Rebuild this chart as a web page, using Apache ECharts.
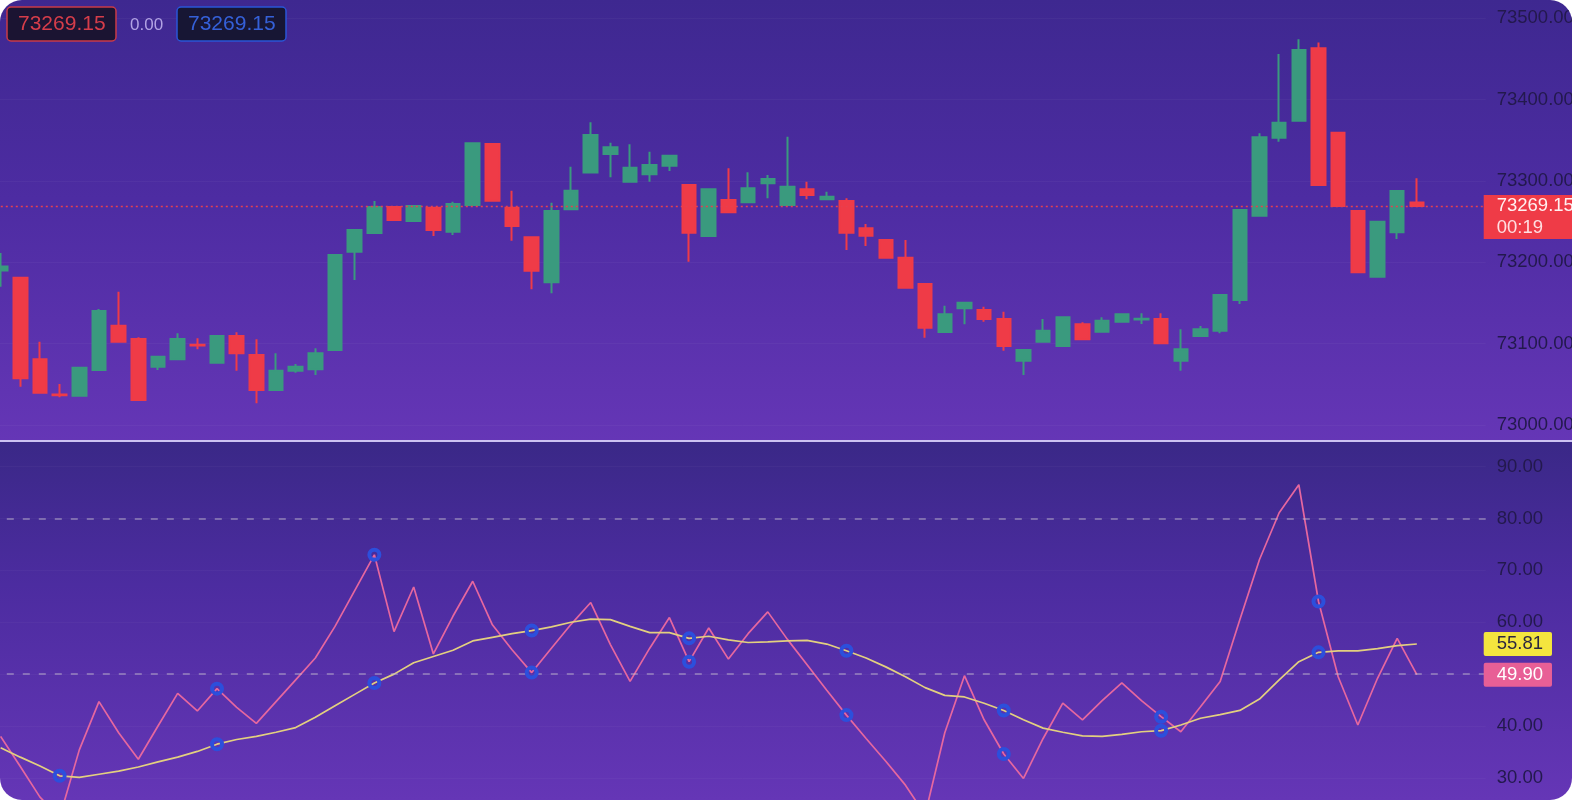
<!DOCTYPE html>
<html>
<head>
<meta charset="utf-8">
<script src="https://cdn.jsdelivr.net/npm/echarts@6/dist/echarts.min.js"></script>
<style>
html,body{margin:0;padding:0;background:#ffffff;}
#chart{width:1572px;height:800px;border-radius:22px;overflow:hidden;
  background:
    linear-gradient(180deg,#3e2890 0%,#4d2ca2 45%,#6536b6 100%) left top/100% 441px no-repeat,
    linear-gradient(180deg,#3a2887 0%,#4c2ca0 40%,#6536b6 100%) left bottom/100% 359px no-repeat;}
</style>
</head>
<body>
<div id="chart"></div>
<script>
// ---------------- data ----------------
const opens  = [73190.0,73181.1,73080.8,73037.5,73036.0,73067.6,73122.1,73105.7,73071.7,73080.8,
                73098.6,73076.6,73109.4,73086.1,73043.0,73066.8,73068.5,73092.2,73213.1,73236.0,
                73268.0,73250.8,73267.2,73237.7,73270.5,73345.5,73267.2,73230.8,73175.4,73265.2,
                73310.3,73333.2,73299.2,73308.2,73318.8,73295.1,73232.4,73276.6,73273.8,73297.2,
                73270.5,73289.8,73277.5,73275.4,73241.8,73227.5,73205.7,73173.4,73114.3,73143.5,
                73141.4,73130.3,73079.1,73102.4,73097.1,73123.8,73114.7,73127.0,73129.7,73130.3,
                73079.1,73109.4,73115.9,73153.7,73257.4,73353.3,73374.2,73463.2,73359.4,73263.1,
                73182.3,73236.9,73273.5];
const closes = [73195.0,73057.4,73039.7,73036.5,73070.5,73140.2,73102.4,73030.7,73084.0,73105.7,
                73097.8,73109.4,73088.1,73043.0,73066.8,73071.7,73088.1,73209.0,73239.8,73268.0,
                73252.0,73269.3,73239.8,73271.7,73346.4,73275.8,73244.7,73189.7,73263.1,73288.1,
                73356.6,73341.4,73316.4,73319.7,73331.1,73236.4,73289.8,73261.5,73291.0,73302.5,
                73293.0,73282.8,73280.7,73236.4,73232.8,73205.7,73168.8,73119.6,73136.1,73150.4,
                73130.3,73097.1,73092.2,73115.9,73132.4,73105.4,73128.2,73136.1,73130.5,73100.5,
                73093.1,73117.7,73159.8,73264.4,73353.7,73371.7,73461.1,73295.1,73269.3,73187.8,
                73250.0,73287.7,73269.15];
const lows   = [73170.0,73047.1,73039.0,73034.0,73035.0,73067.0,73102.0,73030.0,73067.6,73080.0,
                73093.0,73076.0,73066.8,73026.7,73042.5,73064.3,73061.5,73091.5,73178.3,73235.5,
                73251.5,73250.3,73232.4,73233.6,73270.0,73275.3,73226.6,73166.8,73161.9,73264.7,
                73309.8,73304.6,73298.7,73299.2,73312.3,73200.8,73231.9,73260.3,73273.3,73278.7,
                73270.0,73277.5,73277.0,73215.2,73220.1,73205.2,73168.3,73107.3,73113.8,73123.8,
                73127.0,73091.4,73061.5,73101.9,73096.6,73104.9,73114.2,73126.5,73124.2,73100.0,
                73066.8,73108.9,73112.7,73148.8,73256.9,73348.3,73373.7,73294.6,73268.8,73187.3,
                73181.8,73228.7,73268.7];
const highs  = [73211.5,73182.0,73102.4,73050.4,73071.0,73142.6,73163.9,73107.8,73084.5,73112.7,
                73106.6,73110.0,73114.0,73105.4,73088.1,73075.0,73094.3,73210.0,73240.5,73275.4,
                73268.5,73269.8,73267.7,73274.6,73347.6,73346.0,73288.1,73231.3,73273.3,73317.6,
                73372.2,73347.1,73345.1,73336.0,73331.6,73295.6,73290.3,73315.6,73310.7,73307.4,
                73354.5,73299.2,73286.9,73278.7,73247.1,73228.0,73227.5,73173.9,73146.7,73150.9,
                73145.5,73139.3,73092.7,73130.3,73132.9,73126.3,73132.4,73136.6,73137.3,73137.3,
                73117.7,73121.7,73160.3,73264.9,73358.7,73456.2,73474.2,73470.1,73359.9,73263.6,
                73250.5,73288.2,73303.3];
const rsiValues   = [38.0,32.2,26.3,22.4,35.4,44.7,38.7,33.6,40.0,46.3,
                     42.9,47.2,43.6,40.5,44.7,48.9,53.1,59.2,66.1,73.0,
                     58.2,66.8,53.9,61.2,67.9,59.5,54.7,50.3,55.0,59.6,
                     63.8,55.7,48.6,55.0,60.9,52.4,58.9,52.9,57.8,62.0,
                     56.7,51.8,46.9,42.1,37.6,33.2,28.6,22.9,38.7,49.7,
                     41.2,34.6,29.9,37.6,44.4,41.2,44.9,48.3,44.9,41.8,
                     38.9,43.7,48.6,60.5,72.1,81.1,86.5,64.0,49.5,40.2,
                     49.2,56.9,49.90];
const rsiMaValues = [35.8,34.0,32.3,30.4,30.1,30.7,31.3,32.1,33.1,34.0,
                     35.1,36.5,37.4,38.0,38.8,39.7,41.7,43.9,46.1,48.3,
                     50.0,52.2,53.4,54.6,56.4,57.1,57.8,58.4,59.1,60.0,
                     60.6,60.5,59.2,58.0,58.0,56.9,57.3,56.6,56.1,56.2,
                     56.4,56.5,55.8,54.5,53.1,51.4,49.5,47.4,45.9,45.6,
                     44.4,43.0,41.2,39.6,38.8,38.1,38.0,38.4,38.9,39.1,
                     40.2,41.5,42.2,43.0,45.2,48.9,52.4,54.2,54.5,54.5,
                     54.9,55.5,55.81];
const markerIndices = [3, 11, 19, 27, 35, 43, 51, 59, 67];
const categoryCount = 76;            // 73 candles + 3 empty slots on the right
const categories = Array.from({length: categoryCount}, (_, i) => String(i + 1));
const priceMin = 73000, priceMax = 73500, priceStep = 100;
const rsiMin = 30, rsiMax = 90, rsiStep = 10;
const rsiLevels = [80, 50];
const priceChange = '0.00';
const countdown = '00:19';

// ---------------- derived ----------------
const last = closes.length - 1;
const lastClose = closes[last];
const candleData = opens.map((o, i) => [o, closes[i], lows[i], highs[i]]);
const rsiMarkers = markerIndices.map(i => [i, rsiValues[i]]);
const maMarkers = markerIndices.map(i => [i, rsiMaValues[i]]);

const UP = '#3a9a7e', DOWN = '#ef3b47';
const PINK = '#e6679f', YELLOW = '#e3d07f', BLUE = '#2c4fdc';
const FONT = 'Liberation Sans, Arial, sans-serif';
const AXIS_TEXT = '#23194d';

const chart = echarts.init(document.getElementById('chart'), null, {renderer: 'canvas'});
const gridX = {left: -9.2, right: 86.3};

const option = {
  backgroundColor: 'transparent',
  animation: false,
  title: [
    {text: lastClose.toFixed(2), left: 7, top: 7,
     backgroundColor: '#1b1432', borderColor: '#c93a48', borderWidth: 1.5, borderRadius: 4,
     padding: [6, 11, 6, 11],
     textStyle: {color: '#d63d4a', fontSize: 21, fontWeight: 'normal', fontFamily: FONT, lineHeight: 22}},
    {text: priceChange, left: 130, top: 15, padding: 0,
     textStyle: {color: '#b2a3e4', fontSize: 17, fontWeight: 'normal', fontFamily: FONT, lineHeight: 20}},
    {text: lastClose.toFixed(2), left: 177, top: 7,
     backgroundColor: '#171634', borderColor: '#2a55d6', borderWidth: 1.5, borderRadius: 4,
     padding: [6, 11, 6, 11],
     textStyle: {color: '#3560d8', fontSize: 21, fontWeight: 'normal', fontFamily: FONT, lineHeight: 22}}
  ],
  graphic: [
    {type: 'rect', z: 100, silent: true,
     shape: {x: 0, y: 440, width: 1572, height: 2},
     style: {fill: '#cdc2f3'}}
  ],
  grid: [
    {left: gridX.left, right: gridX.right, top: 18.3, bottom: 375,
     containLabel: false, outerBoundsMode: 'none'},
    {left: gridX.left, right: gridX.right, top: 466.6, bottom: 22.1,
     containLabel: false, outerBoundsMode: 'none'}
  ],
  xAxis: [
    {type: 'category', gridIndex: 0, data: categories, boundaryGap: true, show: false},
    {type: 'category', gridIndex: 1, data: categories, boundaryGap: true, show: false}
  ],
  yAxis: [
    {type: 'value', gridIndex: 0, position: 'right', min: priceMin, max: priceMax, interval: priceStep,
     axisLine: {show: false}, axisTick: {show: false},
     splitLine: {show: true, lineStyle: {color: 'rgba(255,255,255,0.035)', width: 1}},
     axisLabel: {color: AXIS_TEXT, fontSize: 18.5, fontFamily: FONT, margin: 11,
                 formatter: v => v.toFixed(2)}},
    {type: 'value', gridIndex: 1, position: 'right', min: rsiMin, max: rsiMax, interval: rsiStep,
     axisLine: {show: false}, axisTick: {show: false},
     splitLine: {show: true, lineStyle: {color: 'rgba(255,255,255,0.03)', width: 1}},
     axisLabel: {color: AXIS_TEXT, fontSize: 18.5, fontFamily: FONT, margin: 11,
                 formatter: v => v.toFixed(2)}}
  ],
  series: [
    {
      type: 'candlestick', xAxisIndex: 0, yAxisIndex: 0,
      data: candleData, barWidth: 14,
      itemStyle: {color: UP, color0: DOWN, borderColor: UP, borderColor0: DOWN, borderWidth: 2},
      markLine: {
        silent: true, symbol: 'none', animation: false,
        data: [{yAxis: lastClose}],
        lineStyle: {color: '#e8404e', type: [2, 3], width: 1.3},
        label: {
          show: true, position: 'end', distance: -2,
          formatter: '{s| }\n{a|' + lastClose.toFixed(2) + '}\n{b|' + countdown + '}',
          rich: {
            s: {lineHeight: 22, fontSize: 12},
            a: {color: '#fff0f0', fontSize: 18.5, fontFamily: FONT, lineHeight: 22, height: 22,
                width: 80, padding: [0, 0, 0, 13], backgroundColor: '#ef3b47'},
            b: {color: '#ffdfe2', fontSize: 18.5, fontFamily: FONT, lineHeight: 22, height: 22,
                width: 80, padding: [0, 0, 0, 13], backgroundColor: '#ef3b47'}
          }
        }
      }
    },
    {
      type: 'line', xAxisIndex: 1, yAxisIndex: 1, data: rsiValues,
      symbol: 'none', clip: false, z: 3,
      lineStyle: {color: PINK, width: 1.7},
      markLine: {
        silent: true, symbol: 'none', animation: false,
        data: [
          ...rsiLevels.map(v => ({yAxis: v, label: {show: false},
            lineStyle: {color: 'rgba(196,186,206,0.6)', type: [7, 9], width: 1.5}})),
          {yAxis: rsiValues[last], lineStyle: {color: 'rgba(0,0,0,0)', width: 0},
           label: {show: true, position: 'end', distance: -2,
                   formatter: rsiValues[last].toFixed(2),
                   color: '#ffffff', fontSize: 18.5, fontFamily: FONT, lineHeight: 20,
                   backgroundColor: '#e85f96', borderRadius: 2, padding: [2, 9, 2, 13]}}
        ]
      }
    },
    {
      type: 'line', xAxisIndex: 1, yAxisIndex: 1, data: rsiMaValues,
      symbol: 'none', clip: false, z: 3,
      lineStyle: {color: YELLOW, width: 1.7},
      markLine: {
        silent: true, symbol: 'none', animation: false,
        data: [
          {yAxis: rsiMaValues[last], lineStyle: {color: 'rgba(0,0,0,0)', width: 0},
           label: {show: true, position: 'end', distance: -2,
                   formatter: rsiMaValues[last].toFixed(2),
                   color: '#2b2640', fontSize: 18.5, fontFamily: FONT, lineHeight: 20,
                   backgroundColor: '#f4e53e', borderRadius: 2, padding: [2, 9, 2, 13]}}
        ]
      }
    },
    {
      type: 'scatter', xAxisIndex: 1, yAxisIndex: 1, data: rsiMarkers, z: 5,
      symbol: 'circle', symbolSize: 10,
      itemStyle: {color: 'rgba(0,0,0,0)', borderColor: BLUE, borderWidth: 4, opacity: 1}
    },
    {
      type: 'scatter', xAxisIndex: 1, yAxisIndex: 1, data: maMarkers, z: 5,
      symbol: 'circle', symbolSize: 10,
      itemStyle: {color: 'rgba(0,0,0,0)', borderColor: BLUE, borderWidth: 4, opacity: 1}
    }
  ]
};
chart.setOption(option);
</script>
</body>
</html>
